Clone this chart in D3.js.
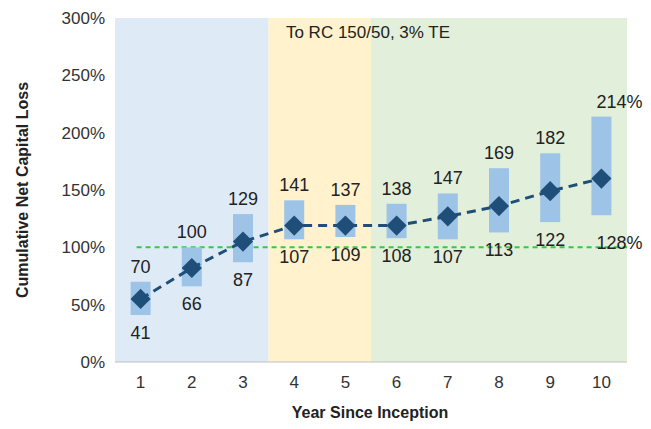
<!DOCTYPE html>
<html><head><meta charset="utf-8">
<script src="https://cdn.jsdelivr.net/npm/d3@7"></script>
<style>body{margin:0;background:#fff}text{font-family:"Liberation Sans",Arial,sans-serif}</style>
</head><body><svg id="c" width="651" height="429"></svg>
<script>
const years = [1,2,3,4,5,6,7,8,9,10];
const highs = [70,100,129,141,137,138,147,169,182,214];
const lows = [41,66,87,107,109,108,107,113,122,128];
const mids = [55,82,105,119,119,119,127,136,149,160];
const yTicks = [0,50,100,150,200,250,300];
const zones = [{from:1,to:3,color:"#deebf7"},{from:4,to:5,color:"#fff2cc"},{from:6,to:10,color:"#e2efda"}];
const threshold = 100;

const svg = d3.select("#c");
const m = {l:115,r:627,t:18,b:362};
const x = d3.scaleBand().domain(years).range([m.l,m.r]);
const y = d3.scaleLinear().domain([0,300]).range([m.b,m.t]);

zones.forEach(z => svg.append("rect").attr("x",x(z.from)).attr("y",m.t)
  .attr("width",x(z.to)+x.bandwidth()-x(z.from)).attr("height",m.b-m.t).attr("fill",z.color));

svg.append("line").attr("x1",m.l).attr("x2",m.r).attr("y1",m.b).attr("y2",m.b).attr("stroke","#bfbfbf");

yTicks.forEach(t => svg.append("text").attr("x",m.l-10).attr("y",y(t)+6).attr("text-anchor","end")
  .attr("font-size",17).attr("fill","#333").text(t+"%"));
years.forEach(d => svg.append("text").attr("x",x(d)+x.bandwidth()/2).attr("y",m.b+26).attr("text-anchor","middle")
  .attr("font-size",17).attr("fill","#333").text(d));

const cx = d => x(d)+x.bandwidth()/2;
svg.append("line").attr("x1",cx(1)-4).attr("x2",m.r).attr("y1",y(threshold)).attr("y2",y(threshold))
  .attr("stroke","#2ecc40").attr("stroke-width",2).attr("stroke-dasharray","5,4");

years.forEach((d,i) => svg.append("rect").attr("x",cx(d)-10).attr("width",20)
  .attr("y",y(highs[i])).attr("height",y(lows[i])-y(highs[i])).attr("fill","#9dc3e6"));

svg.append("path").datum(mids).attr("fill","none").attr("stroke","#1f4e79").attr("stroke-width",3)
  .attr("stroke-dasharray","9,6")
  .attr("d",d3.line().x((v,i)=>cx(years[i])).y(v=>y(v)));

svg.selectAll(".dm").data(mids).join("path").attr("fill","#1f4e79")
  .attr("transform",(v,i)=>`translate(${cx(years[i])},${y(v)})`)
  .attr("d",d3.symbol().type(d3.symbolDiamond2).size(260));

years.forEach((d,i) => {
  const last = i===years.length-1;
  svg.append("text").attr("x",last?cx(d)-5:cx(d)).attr("y",y(highs[i])-9).attr("text-anchor",last?"start":"middle")
    .attr("font-size",18).attr("fill","#222").text(highs[i]+(last?"%":""));
  svg.append("text").attr("x",last?cx(d)-5:cx(d)).attr("y",last?y(lows[i])+34:y(lows[i])+24).attr("text-anchor",last?"start":"middle")
    .attr("font-size",18).attr("fill","#222").text(lows[i]+(last?"%":""));
});

svg.append("text").attr("x",368).attr("y",38).attr("text-anchor","middle").attr("font-size",17).attr("fill","#222")
  .text("To RC 150/50, 3% TE");
svg.append("text").attr("x",370).attr("y",418).attr("text-anchor","middle").attr("font-size",16)
  .attr("font-weight","bold").attr("fill","#222").text("Year Since Inception");
svg.append("text").attr("transform",`translate(28,${(m.t+m.b)/2}) rotate(-90)`).attr("text-anchor","middle")
  .attr("font-size",16).attr("font-weight","bold").attr("fill","#222").text("Cumulative Net Capital Loss");
</script></body></html>
